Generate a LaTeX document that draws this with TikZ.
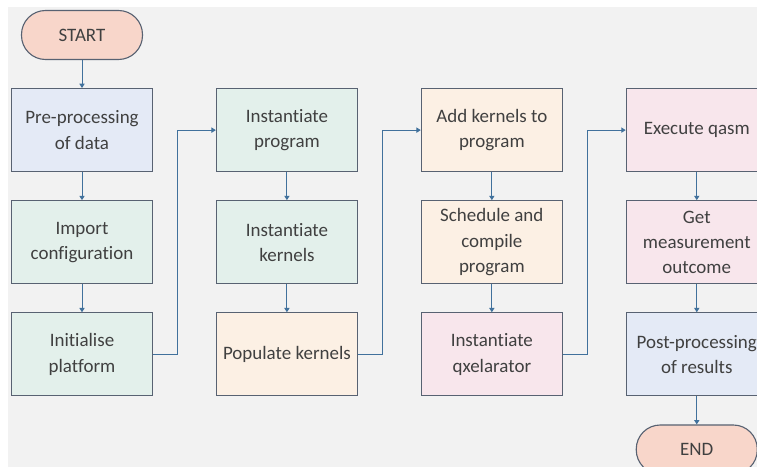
\documentclass[tikz,border=0pt]{standalone}
\usepackage{fontspec}
\setmainfont[Ligatures=NoCommon]{Carlito}
\usepackage{xcolor}
\usepackage{tikz}
\usetikzlibrary{positioning, arrows.meta}
\definecolor{BackColor}{RGB}{242,242,242}
\definecolor{TermColor}{RGB}{248,214,202}
\definecolor{PrepColor}{RGB}{228,234,246}
\definecolor{SetupColor}{RGB}{227,240,235}
\definecolor{KernColor}{RGB}{252,240,228}
\definecolor{RunColor}{RGB}{248,230,236}
\definecolor{EdgeColor}{RGB}{88,98,114}
\definecolor{FlowColor}{RGB}{65,113,156}
\definecolor{InkColor}{RGB}{64,64,64}
\tikzset{
    stepbox/.style={
        rectangle,
        minimum height=2.075cm,
        minimum width=3.525cm,
        align=center,
        draw=EdgeColor,
        line width=0.8pt,
        text=InkColor,
        font=\fontsize{13.5}{18}\selectfont
    },
    prep/.style={stepbox, fill=PrepColor},
    setup/.style={stepbox, fill=SetupColor},
    kern/.style={stepbox, fill=KernColor},
    run/.style={stepbox, fill=RunColor},
    terminal/.style={
        rectangle,
        rounded corners=6mm,
        minimum height=1.225cm,
        minimum width=3.025cm,
        draw=EdgeColor,
        line width=0.8pt,
        fill=TermColor,
        text=InkColor,
        font=\fontsize{13.5}{18}\selectfont
    },
    link/.style={-{Triangle[length=1.1mm, width=1.3mm]}, draw=FlowColor, line width=0.7pt}
}

\begin{document}
\begin{tikzpicture}[node distance=0.7cm and 1.57cm]

% Canvas
\useasboundingbox (0,0) rectangle (18.925,-11.675);
\fill[BackColor] (0.2,-0.175) rectangle (18.925,-11.675);

% Column 1
\node[terminal] (start) at (2.05,-0.875) {START};
\node[prep, below=of start] (preproc) {Pre-processing\\of data};
\node[setup, below=of preproc] (importcfg) {Import\\configuration};
\node[setup, below=of importcfg] (initplat) {Initialise\\platform};

% Column 2
\node[setup, right=of preproc] (instprog) {Instantiate\\program};
\node[setup, below=of instprog] (instkern) {Instantiate\\kernels};
\node[kern, below=of instkern] (popkern) {Populate kernels};

% Column 3
\node[kern, right=of instprog] (addkern) {Add kernels to\\program};
\node[kern, below=of addkern] (schedcomp) {Schedule and\\compile\\program};
\node[run, below=of schedcomp] (instqx) {Instantiate\\qxelarator};

% Column 4
\node[run, right=of addkern] (execqasm) {Execute qasm};
\node[run, below=of execqasm] (getmeas) {Get\\measurement\\outcome};
\node[prep, below=of getmeas] (postproc) {Post-processing\\of results};
\node[terminal, below=of postproc] (stop) {END};

% Arrows down each column
\foreach \a/\b in {start/preproc, preproc/importcfg, importcfg/initplat,
                   instprog/instkern, instkern/popkern,
                   addkern/schedcomp, schedcomp/instqx,
                   execqasm/getmeas, getmeas/postproc, postproc/stop}
    \draw[link] (\a) -- (\b);

% Arrows from column to column
\draw[link] (initplat.east) -- ++(0.62,0) |- (instprog.west);
\draw[link] (popkern.east) -- ++(0.62,0) |- (addkern.west);
\draw[link] (instqx.east) -- ++(0.62,0) |- (execqasm.west);

\end{tikzpicture}
\end{document}
